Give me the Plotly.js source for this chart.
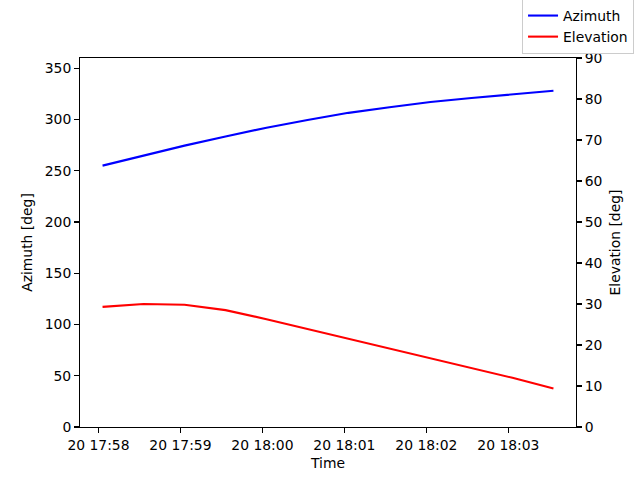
<!DOCTYPE html>
<html>
<head>
<meta charset="utf-8">
<script src="https://cdn.plot.ly/plotly-3.0.1.min.js"></script>
<style>html,body{margin:0;padding:0;background:#fff;}</style>
</head>
<body>
<div id="chart" style="width:640px;height:480px;"></div>
<script>
const times = ["2024-01-20 17:58:03","2024-01-20 17:58:33","2024-01-20 17:59:03","2024-01-20 17:59:33",
  "2024-01-20 18:00:03","2024-01-20 18:00:33","2024-01-20 18:01:03","2024-01-20 18:01:33",
  "2024-01-20 18:02:03","2024-01-20 18:02:33","2024-01-20 18:03:03","2024-01-20 18:03:33"];
const azimuth = [255, 265, 274.5, 283.5, 292, 299.5, 306.5, 312, 317, 321, 324.5, 328];
const elevation = [29.3, 30.0, 29.8, 28.5, 26.3, 23.9, 21.5, 19.1, 16.8, 14.3, 12.0, 9.4];
const tickVals = ["2024-01-20 17:58:00","2024-01-20 17:59:00","2024-01-20 18:00:00","2024-01-20 18:01:00","2024-01-20 18:02:00","2024-01-20 18:03:00"];
const tickText = ["20 17:58","20 17:59","20 18:00","20 18:01","20 18:02","20 18:03"];

const font = {family: "DejaVu Sans", size: 13.9, color: "#000"};
const traces = [
  {x: times, y: azimuth, name: "Azimuth", type: "scatter", mode: "lines", line: {color: "blue", width: 2.1}, yaxis: "y"},
  {x: times, y: elevation, name: "Elevation", type: "scatter", mode: "lines", line: {color: "red", width: 2.1}, yaxis: "y2"}
];
const axisCommon = {showgrid: false, zeroline: false, showline: true, linecolor: "#000", linewidth: 1.1,
  ticks: "outside", ticklen: 4.9, tickwidth: 1.1, tickcolor: "#000", tickfont: font, automargin: false};
const layout = {
  width: 640, height: 480,
  margin: {l: 80, r: 64, t: 58, b: 53, pad: 0, autoexpand: false},
  paper_bgcolor: "#fff", plot_bgcolor: "#fff",
  font: font,
  showlegend: true,
  legend: {x: 1.117, y: 1.0108, xanchor: "right", yanchor: "bottom", bgcolor: "rgba(255,255,255,0.8)",
    bordercolor: "#cccccc", borderwidth: 1, font: font,
    itemwidth: 30, tracegroupgap: 0},
  xaxis: Object.assign({}, axisCommon, {type: "date", range: ["2024-01-20 17:57:46.5", "2024-01-20 18:03:49.5"],
    tickvals: tickVals, ticktext: tickText, mirror: true,
    title: {text: "Time", font: font, standoff: 6}}),
  yaxis: Object.assign({}, axisCommon, {range: [0, 360], tickvals: [0,50,100,150,200,250,300,350], mirror: false,
    title: {text: "Azimuth [deg]", font: font, standoff: 8}}),
  yaxis2: Object.assign({}, axisCommon, {range: [0, 90], tickvals: [0,10,20,30,40,50,60,70,80,90],
    overlaying: "y", side: "right", anchor: "x",
    title: {text: "Elevation [deg]", font: font, standoff: 8}})
};
Plotly.newPlot("chart", traces, layout, {displayModeBar: false, staticPlot: true});
</script>
</body>
</html>
